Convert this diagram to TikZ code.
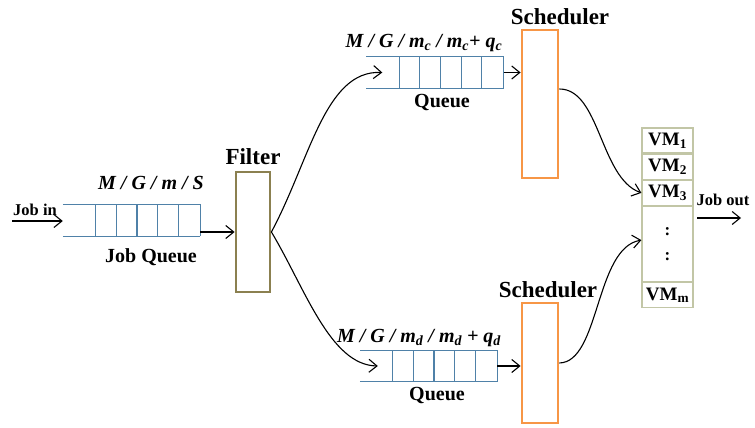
\documentclass[tikz,border=0pt]{standalone}
\usepackage{fontspec}
\setmainfont{Liberation Serif}
\usetikzlibrary{positioning, arrows.meta}
\definecolor{qblue}{HTML}{4F81A8}
\definecolor{filtcol}{HTML}{8B8050}
\definecolor{schedcol}{HTML}{F79646}
\definecolor{vmcol}{HTML}{C2C6A6}
\tikzset{
    queue/.style={rectangle, minimum width=137pt, minimum height=31pt, inner sep=0pt},
    qline/.style={draw=qblue, line width=1.1pt},
    filterbox/.style={draw=filtcol, line width=2.8pt, minimum width=34pt, minimum height=120pt, inner sep=0pt},
    schedbox/.style={draw=schedcol, line width=2.8pt, minimum width=36pt, inner sep=0pt},
    vmbox/.style={draw=vmcol, line width=1.2pt, minimum width=51pt, minimum height=25pt, inner sep=0pt, font=\fontsize{19}{20}\selectfont\bfseries},
    title/.style={font=\fontsize{23}{26}\selectfont\bfseries},
    lbl/.style={font=\fontsize{20}{24}\selectfont\bfseries},
    small/.style={font=\fontsize{16.5}{18}\selectfont\bfseries},
    kendall/.style={font=\fontsize{20}{24}\selectfont\bfseries\itshape},
    arrow/.style={-{Straight Barb[length=8pt,width=13pt,line width=1.1pt]}, line width=1.1pt}
}
\newcommand{\drawqueue}[1]{%
    \draw[qline] (#1.north west) -- (#1.north east) -- (#1.south east);
    \draw[qline] (#1.south west) -- (#1.south east);
    \foreach \k in {0,...,4}
        \draw[qline] ([xshift=33pt+\k*20.6pt]#1.north west) -- ([xshift=33pt+\k*20.6pt]#1.south west);
}

\begin{document}
\begin{tikzpicture}[x=1pt, y=1pt]
\useasboundingbox (0,0) rectangle (755,428);

% job queue and filter
\node[queue] (jq) at (131.5,207.5) {};
\drawqueue{jq}
\node[kendall] (jqlab) at (151,245) {M / G / m / S};
\node[lbl] (jqname) at (151,171) {Job Queue};
\coordinate (jin) at (12,207);
\node[small] (jinlab) at (35,218) {Job in};
\draw[arrow] (jin) -- (jq.west |- jin);
\node[filterbox] (filter) at (253,196) {};
\node[title] (filterlab) at (253,271) {Filter};
\draw[arrow] (jq.east |- filter.west) -- (filter.west);

% upper branch
\node[queue] (uq) at (435,355.5) {};
\drawqueue{uq}
\node[kendall] (uqlab) at (424,385) {M / G / m\textsubscript{c} / m\textsubscript{c}+ q\textsubscript{c}};
\node[lbl] (uqname) at (442,325) {Queue};
\node[schedbox, minimum height=148pt] (us) at (540,324) {};
\node[title] (uslab) at (560,411) {Scheduler};
\draw[arrow] (uq.east) -- (us.west |- uq.east);

% lower branch
\node[queue] (lq) at (428.5,62) {};
\drawqueue{lq}
\node[kendall] (lqlab) at (419,90) {M / G / m\textsubscript{d} / m\textsubscript{d} + q\textsubscript{d}};
\node[lbl] (lqname) at (437,32) {Queue};
\node[schedbox, minimum height=120pt] (ls) at (540,65) {};
\node[title] (lslab) at (548,138) {Scheduler};
\draw[arrow] (lq.east) -- (ls.west |- lq.east);

% VM pool
\node[vmbox] (vm1) at (667.5,287.5) {VM\textsubscript{1}};
\node[vmbox, below=0pt of vm1] (vm2) {VM\textsubscript{2}};
\node[vmbox, below=0pt of vm2] (vm3) {VM\textsubscript{3}};
\node[vmbox, minimum height=75pt, below=0pt of vm3, align=center, font=\fontsize{17}{25}\selectfont\bfseries] (vmdots) {:\\:};
\node[vmbox, below=0pt of vmdots] (vmm) {VM\textsubscript{m}};
\coordinate (outa) at (697,210);
\coordinate (outb) at (741,210);
\node[small] (outlab) at (723,228) {Job out};
\draw[arrow] (outa) -- (outb);

% routing curves
\draw[arrow] (filter.east) .. controls (310,268) and (325,358) .. ([xshift=16pt]uq.west);
\draw[arrow] (filter.east) .. controls (305,140) and (330,63) .. ([xshift=18pt]lq.west);
\draw[arrow] ([yshift=15pt]us.east) .. controls (600,339) and (600,250) .. (vm3.west);
\draw[arrow] (ls.east) .. controls (600,66) and (595,180) .. ([yshift=4pt]vmdots.west);
\end{tikzpicture}
\end{document}
